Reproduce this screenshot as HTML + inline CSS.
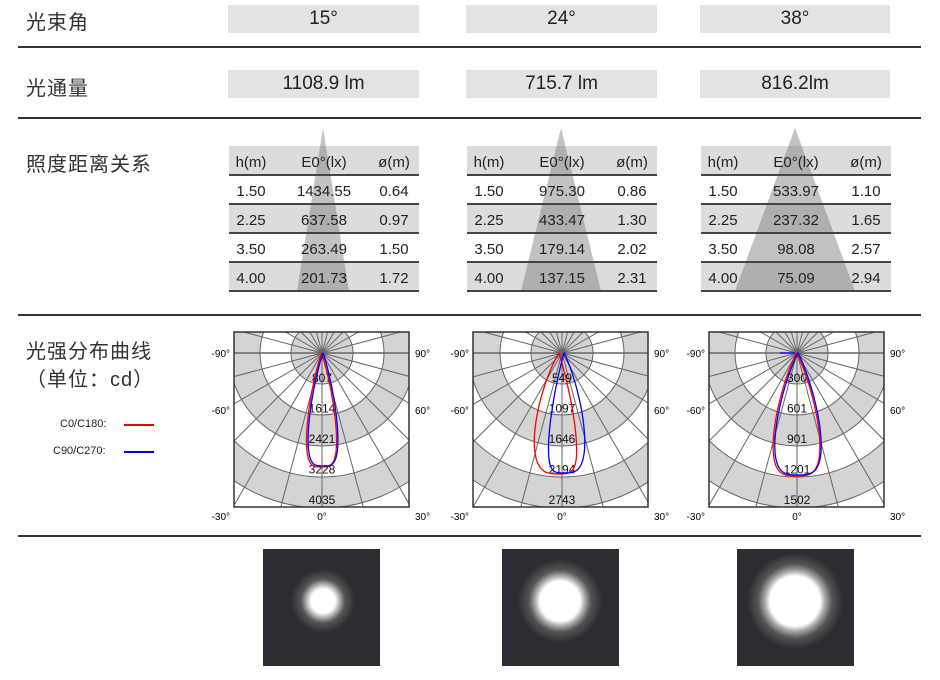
<!DOCTYPE html>
<html><head><meta charset="utf-8">
<style>
body{margin:0;width:940px;height:680px;background:#fff;position:relative;overflow:hidden;font-family:"Liberation Sans","Noto Sans CJK SC",sans-serif;color:#222}
.a{position:absolute}
.hl{position:absolute;left:18px;width:903px;height:2px;background:#333}
.lab{position:absolute;left:26px;font-size:20px;color:#333;letter-spacing:1px}
.box{position:absolute;background:#e3e3e3;font-size:19px;text-align:center;line-height:28px;color:#222}
.sq{position:absolute;width:117px;height:117px;background:#2c2d32}
</style></head><body>
<div class="lab" style="top:6px">光束角</div>
<div class="lab" style="top:72px">光通量</div>
<div class="lab" style="top:148px">照度距离关系</div>
<div class="lab" style="top:335px">光强分布曲线</div>
<div class="lab" style="top:363px">（单位：cd）</div>
<div class="hl" style="top:46px"></div>
<div class="hl" style="top:117px"></div>
<div class="hl" style="top:314px"></div>
<div class="hl" style="top:535px"></div>
<div class="box" style="left:228px;top:5px;width:191px">15°</div>
<div class="box" style="left:466px;top:5px;width:191px">24°</div>
<div class="box" style="left:700px;top:5px;width:190px">38°</div>
<div class="box" style="left:228px;top:70px;width:191px">1108.9 lm</div>
<div class="box" style="left:466px;top:70px;width:191px">715.7 lm</div>
<div class="box" style="left:700px;top:70px;width:190px">816.2lm</div>
<div class="a" style="left:60px;top:418px;font-size:11px">C0/C180:</div>
<div class="a" style="left:124px;top:424px;width:30px;height:2px;background:#e00"></div>
<div class="a" style="left:53px;top:445px;font-size:11px">C90/C270:</div>
<div class="a" style="left:124px;top:451px;width:30px;height:2px;background:#00e"></div>
<svg id="s" class="a" style="left:0;top:0" width="940" height="680"></svg>
<div class="sq" style="left:263px;top:549px"></div>
<div class="sq" style="left:502px;top:549px"></div>
<div class="sq" style="left:737px;top:549px"></div>
<div class="a" style="left:263px;top:549px;width:117px;height:117px;background:radial-gradient(circle at 60px 52px,#fff 0,#fff 12px,#aaa 17px,#555 22px,rgba(60,60,66,0) 32px)"></div>
<div class="a" style="left:502px;top:549px;width:117px;height:117px;background:radial-gradient(circle at 58px 52px,#fff 0,#fff 20px,#aaa 25px,#555 31px,rgba(60,60,66,0) 42px)"></div>
<div class="a" style="left:737px;top:549px;width:117px;height:117px;background:radial-gradient(circle at 58px 52px,#fff 0,#fff 25px,#aaa 30px,#555 37px,rgba(60,60,66,0) 48px)"></div>
<script>
var s=document.getElementById('s'),h='';
var tabs=[[229,[['1.50','1434.55','0.64'],['2.25','637.58','0.97'],['3.50','263.49','1.50'],['4.00','201.73','1.72']],323,26,128],
[467,[['1.50','975.30','0.86'],['2.25','433.47','1.30'],['3.50','179.14','2.02'],['4.00','137.15','2.31']],561,40,128],
[701,[['1.50','533.97','1.10'],['2.25','237.32','1.65'],['3.50','98.08','2.57'],['4.00','75.09','2.94']],795,60,128]];
tabs.forEach(function(t){var x=t[0],w=190;
h+='<rect x="'+x+'" y="146" width="'+w+'" height="29" fill="#dcdcdc"/>';
h+='<rect x="'+x+'" y="204" width="'+w+'" height="29" fill="#dcdcdc"/>';
h+='<rect x="'+x+'" y="262" width="'+w+'" height="29" fill="#dcdcdc"/>';
h+='<polygon points="'+t[2]+','+t[4]+' '+(t[2]-t[3])+',291 '+(t[2]+t[3])+',291" fill="rgba(120,120,120,0.45)"/>';
[175,204,233,262,291].forEach(function(y){h+='<rect x="'+x+'" y="'+(y-1)+'" width="'+w+'" height="2" fill="#444"/>';});
var cx=[x+22,x+95,x+165];
['h(m)','E0°(lx)','ø(m)'].forEach(function(v,i){h+='<text x="'+cx[i]+'" y="167" font-size="15" text-anchor="middle" fill="#222">'+v+'</text>';});
t[1].forEach(function(r,j){r.forEach(function(v,i){h+='<text x="'+cx[i]+'" y="'+(196+29*j)+'" font-size="15" text-anchor="middle" fill="#222">'+v+'</text>';});});
});
var ch=[[234,322,['807','1614','2421','3228','4035'],114,13.8,0,0],[473,562,['549','1097','1646','2194','2743'],121,17.3,1,-5],[709,797,['300','601','901','1201','1502'],123,20,2,0]];
ch.forEach(function(c,k){var bx=c[0],cx=c[1],cy=353,by=332,W=175,H=175;
var id='c'+k;h+='<clipPath id="'+id+'"><rect x="'+bx+'" y="'+by+'" width="'+W+'" height="'+H+'"/></clipPath><g clip-path="url(#'+id+')">';
h+='<rect x="'+bx+'" y="'+by+'" width="'+W+'" height="'+H+'" fill="#fff"/>';
for(var r=217;r>0;r-=31){var g=Math.round(r/31)%2==1;h+='<circle cx="'+cx+'" cy="'+cy+'" r="'+r+'" fill="'+(g?'#d4d4d4':'#fff')+'" stroke="#666" stroke-width="1"/>';}
for(var a=0;a<360;a+=15){var ra=a*Math.PI/180;h+='<line x1="'+cx+'" y1="'+cy+'" x2="'+(cx+300*Math.sin(ra))+'" y2="'+(cy+300*Math.cos(ra))+'" stroke="#666" stroke-width="1"/>';}
h+='<line x1="'+bx+'" y1="'+cy+'" x2="'+(bx+W)+'" y2="'+cy+'" stroke="#666" stroke-width="1.5"/>';
c[2].forEach(function(v,i){h+='<text x="'+cx+'" y="'+(cy+29+30.5*i)+'" font-size="12" text-anchor="middle" fill="#111">'+v+'</text>';});
function path(R,sg,dx,sk){var p='';for(var d=-90;d<=90;d+=0.5){var t=d*Math.PI/180,r=R*Math.exp(-Math.pow(Math.abs(d)/sg,4));var x=cx+dx+r*Math.sin(t)*(1+sk*Math.sin(t)*3),y=cy+r*Math.cos(t);p+=(p?'L':'M')+x.toFixed(1)+','+y.toFixed(1);}return p;}
var sk=k==1?1:0;
h+='<path d="'+path(c[3],c[4]+(k==1?1:0),k==1?-3:-0.5,k==1?-0.25:0)+'" fill="none" stroke="red" stroke-width="1.3"/>';
h+='<path d="'+path(c[3]-1,c[4]-(k==1?1.5:0),k==1?2:1,k==1?0.25:0)+'" fill="none" stroke="blue" stroke-width="1.3"/>';
if(k==2)h+='<line x1="780" y1="353" x2="795" y2="353" stroke="blue" stroke-width="1.3"/>';
h+='</g><rect x="'+bx+'" y="'+by+'" width="'+W+'" height="'+H+'" fill="none" stroke="#333" stroke-width="1.5"/>';
var L=bx-4,R2=bx+W+6;
h+='<text x="'+L+'" y="357" font-size="10" text-anchor="end">-90°</text><text x="'+R2+'" y="357" font-size="10">90°</text>';
h+='<text x="'+L+'" y="414" font-size="10" text-anchor="end">-60°</text><text x="'+R2+'" y="414" font-size="10">60°</text>';
h+='<text x="'+L+'" y="520" font-size="10" text-anchor="end">-30°</text><text x="'+R2+'" y="520" font-size="10">30°</text>';
h+='<text x="'+cx+'" y="520" font-size="10" text-anchor="middle">0°</text>';
});
s.innerHTML=h;
</script>
</body></html>
